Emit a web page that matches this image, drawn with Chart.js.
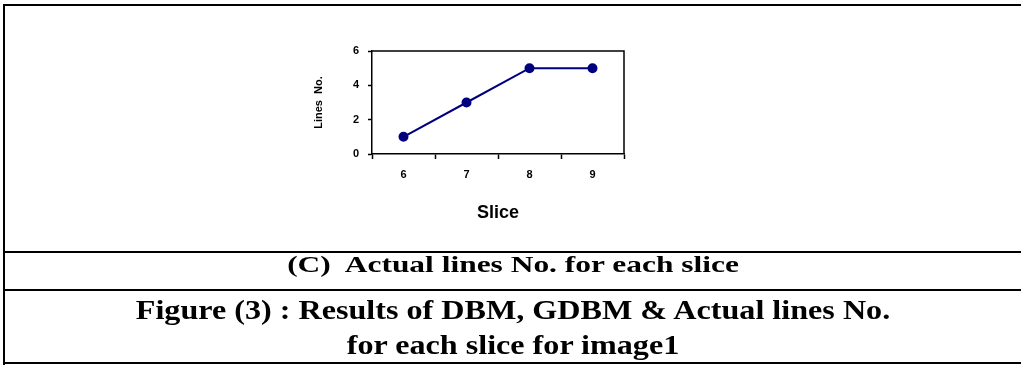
<!DOCTYPE html>
<html>
<head>
<meta charset="utf-8">
<script src="https://cdn.jsdelivr.net/npm/chart.js@4"></script>
<style>
  html, body { margin: 0; padding: 0; background: #fff; }
  #page { position: relative; width: 1021px; height: 365px; overflow: hidden; }
  .rule { position: absolute; background: #000; }
  .cap { position: absolute; left: 0; width: 1026px; text-align: center;
         font-family: "Liberation Serif", "Times New Roman", serif; font-weight: bold;
         color: #000; white-space: nowrap; transform-origin: 513px 50%; }
  .c1 { font-size: 24px; line-height: 24px; transform: scaleX(1.31); }
  .c2 { font-size: 27px; line-height: 27px; transform: scaleX(1.19); }
  #wrap { position: absolute; left: 0; top: 0; width: 1021px; height: 250px; }
</style>
</head>
<body>
<div id="page">
  <div id="wrap"><canvas id="lineChart" width="1021" height="250"></canvas></div>

  <!-- table borders -->
  <div class="rule" style="left:3px; top:4px; width:1018px; height:2px;"></div>
  <div class="rule" style="left:3px; top:4px; width:2px; height:361px;"></div>
  <div class="rule" style="left:3px; top:251px; width:1018px; height:2px;"></div>
  <div class="rule" style="left:3px; top:289px; width:1018px; height:2px;"></div>
  <div class="rule" style="left:3px; top:362px; width:1018px; height:2px;"></div>

  <div class="cap c1" style="top:252px;">(C)&nbsp; Actual lines No. for each slice</div>
  <div class="cap c2" style="top:297px;">Figure (3) : Results of DBM, GDBM &amp; Actual lines No.</div>
  <div class="cap c2" style="top:332px;">for each slice for image1</div>
</div>

<script>
// Data
const slices = ['6', '7', '8', '9'];
const linesNo = [1, 3, 5, 5];
const yTicks = [0, 2, 4, 6];

const navy = '#00007f';
const axisFont = { family: 'Liberation Sans, Arial, sans-serif', size: 11, weight: 'bold' };

// Draw the top and right edges of the plot area
const plotFrame = {
    id: 'plotFrame',
    afterDraw(chart) {
        const { ctx, chartArea } = chart;
        ctx.save();
        ctx.strokeStyle = '#000';
        ctx.lineWidth = 1.5;
        ctx.beginPath();
        ctx.moveTo(chartArea.left, chartArea.top);
        ctx.lineTo(chartArea.right, chartArea.top);
        ctx.lineTo(chartArea.right, chartArea.bottom);
        ctx.stroke();
        ctx.restore();
    }
};

const chart = new Chart(document.getElementById('lineChart').getContext('2d'), {
    type: 'line',
    data: {
        labels: slices,
        datasets: [{
            label: 'Lines No.',
            data: linesNo,
            borderColor: navy,
            backgroundColor: navy,
            borderWidth: 2,
            pointRadius: 4,
            pointBackgroundColor: navy,
            pointBorderColor: navy,
            fill: false,
            tension: 0
        }]
    },
    options: {
        responsive: false,
        animation: false,
        devicePixelRatio: 1,
        layout: { padding: { left: 312, right: 397, top: 51, bottom: 26 } },
        plugins: {
            legend: { display: false },
            tooltip: { enabled: false }
        },
        scales: {
            x: {
                type: 'category',
                offset: true,
                afterFit: (scale) => { scale.height = 70; },
                grid: {
                    offset: true,
                    drawOnChartArea: false,
                    tickLength: 5,
                    tickColor: '#000',
                    tickWidth: 1.5
                },
                border: { color: '#000', width: 1.5 },
                ticks: { color: '#000', font: axisFont, padding: 9, maxRotation: 0 },
                title: {
                    display: true,
                    text: 'Slice',
                    color: '#000',
                    font: { family: 'Liberation Sans, Arial, sans-serif', size: 18, weight: 'bold' },
                    padding: 0
                }
            },
            y: {
                min: 0,
                max: 6,
                afterFit: (scale) => { scale.width = 60; },
                afterBuildTicks: (scale) => { scale.ticks = yTicks.map(v => ({ value: v })); },
                grid: {
                    drawOnChartArea: false,
                    tickLength: 4,
                    tickColor: '#000',
                    tickWidth: 1.5
                },
                border: { color: '#000', width: 1.5 },
                ticks: { color: '#000', font: axisFont, padding: 9 },
                title: {
                    display: true,
                    text: 'Lines  No.',
                    color: '#000',
                    font: { family: 'Liberation Sans, Arial, sans-serif', size: 11, weight: 'bold' },
                    padding: 0
                }
            }
        }
    },
    plugins: [plotFrame]
});
</script>
</body>
</html>
